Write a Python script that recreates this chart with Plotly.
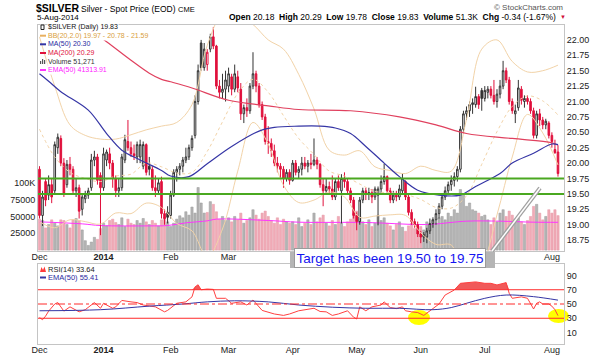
import pandas as pd
import plotly.graph_objects as go

W, H = 600, 357
def PX(x): return x / W
def PY(y): return 1 - y / H

FONT = "Liberation Sans, Arial, sans-serif"

# ---------------- data ----------------
holidays = ["2013-12-25", "2014-01-01", "2014-02-17", "2014-04-18", "2014-05-26", "2014-07-04"]
days = [d for d in pd.bdate_range("2013-12-02", "2014-08-05") if d.strftime("%Y-%m-%d") not in holidays]

opens = [19.90,19.15,19.70,19.48,19.65,19.55,20.25,20.40,20.00,19.65,19.98,19.90,19.55,19.60,19.25,19.42,19.48,19.60,20.05,20.10,19.80,
         19.60,20.05,20.15,20.00,19.75,19.55,19.60,20.05,20.35,20.25,20.15,20.10,20.10,19.95,20.30,19.95,19.90,19.60,19.55,19.70,19.18,19.20,
         19.15,19.48,19.85,19.90,19.95,20.05,20.10,20.25,20.45,21.00,21.95,21.55,21.60,21.85,22.05,21.90,21.25,21.15,21.20,
         21.25,21.40,21.20,21.40,21.20,20.80,20.90,20.85,21.25,21.45,21.25,20.95,20.75,20.35,20.32,20.20,20.00,19.95,19.90,19.75,19.85,
         19.72,20.00,19.85,19.90,20.00,19.95,20.00,19.98,20.05,19.98,19.65,19.55,19.62,19.58,19.45,19.70,19.55,19.75,19.70,19.55,19.40,
         19.15,19.05,19.40,19.55,19.50,19.52,19.45,19.48,19.58,19.70,19.78,19.55,19.40,19.48,19.45,19.55,19.70,19.45,19.20,19.05,19.00,
         18.85,18.80,18.80,18.90,19.02,19.08,19.18,19.30,19.45,19.55,19.65,19.72,19.78,19.90,20.55,20.80,20.85,20.95,20.95,21.08,21.18,
         21.05,21.15,21.20,21.10,21.00,21.12,21.25,21.50,21.35,21.00,20.80,20.90,21.20,21.00,21.05,21.00,20.85,20.45,20.80,20.70,20.62,20.65,
         20.45,20.22,20.18]
highs = [19.95,19.55,19.75,19.80,19.75,20.35,20.48,20.45,20.08,20.05,20.10,19.95,19.75,19.65,19.50,19.55,19.60,20.15,20.20,20.15,19.85,
         20.25,20.22,20.25,20.05,19.80,19.75,20.15,20.46,20.70,20.35,20.30,20.35,20.38,20.35,20.32,20.10,19.95,19.80,19.75,19.78,19.25,19.30,
         19.55,19.90,19.95,20.00,20.10,20.25,20.30,20.45,21.10,21.60,22.00,21.95,21.85,22.10,22.21,21.92,21.35,21.45,21.50,
         21.55,21.45,21.60,21.50,21.30,20.95,21.05,21.30,21.80,21.50,21.30,21.00,20.80,20.60,20.40,20.30,20.10,20.00,19.95,19.90,19.90,
         20.05,20.05,19.95,20.10,20.10,20.05,20.15,20.40,20.10,20.00,19.75,19.75,19.70,19.80,19.75,19.80,19.82,19.85,19.75,19.60,19.45,
         19.20,19.45,19.60,19.60,19.60,19.58,19.62,19.62,19.80,19.99,19.80,19.60,19.55,19.55,19.65,19.83,19.72,19.50,19.25,19.10,19.05,
         18.90,18.88,18.95,19.10,19.12,19.25,19.35,19.50,19.62,19.70,19.80,19.85,19.95,20.60,20.85,20.92,21.00,21.05,21.24,21.12,21.22,
         21.25,21.25,21.25,21.35,21.20,21.35,21.66,21.55,21.40,21.05,20.95,21.35,21.25,21.10,21.10,21.05,20.90,20.85,20.88,20.75,20.72,20.68,
         20.50,20.38,20.29]
lows = [19.10,18.98,19.30,19.40,19.35,19.50,20.15,19.95,19.45,19.60,19.80,19.50,19.45,19.10,19.15,19.35,19.42,19.55,19.95,19.65,18.83,
        19.55,19.95,19.90,19.60,19.45,19.45,19.55,20.00,20.20,20.10,20.05,20.00,20.00,19.90,19.80,19.80,19.55,19.45,19.50,19.10,19.00,19.02,
        19.10,19.45,19.70,19.80,19.85,20.00,20.05,20.20,20.40,20.95,21.50,21.50,21.50,21.80,21.85,21.20,21.05,21.05,21.00,
        21.15,21.10,21.15,21.15,20.70,20.65,20.75,20.80,21.20,21.15,20.90,20.70,20.30,20.15,20.10,19.95,19.85,19.75,19.60,19.70,19.65,
        19.70,19.80,19.75,19.80,19.90,19.85,19.90,19.95,19.90,19.60,19.30,19.50,19.50,19.40,19.40,19.55,19.02,19.60,19.50,19.35,19.10,
        18.91,19.00,19.35,19.40,19.40,19.35,19.40,18.99,19.50,19.65,19.50,19.35,19.35,19.38,19.40,19.50,19.40,19.15,19.00,18.95,18.80,
        18.70,18.72,18.70,18.85,18.95,19.00,19.10,19.25,19.40,19.50,19.55,19.62,19.70,19.85,20.50,20.70,20.75,20.80,20.90,20.88,20.85,
        21.00,21.05,21.05,20.95,20.90,21.05,21.20,21.30,20.95,20.80,20.65,20.85,20.95,20.90,20.95,20.80,20.40,20.40,20.60,20.55,20.55,20.40,
        20.25,20.15,19.78]
closes = [19.15,19.45,19.40,19.65,19.45,20.30,20.42,20.00,19.50,19.98,19.90,19.55,19.60,19.22,19.45,19.48,19.55,20.05,20.10,19.72,19.60,
          20.15,20.18,20.00,19.75,19.55,19.60,20.10,20.38,20.25,20.15,20.12,20.30,20.30,20.30,19.85,19.90,19.60,19.55,19.68,19.18,19.10,19.12,
          19.48,19.85,19.90,19.95,20.05,20.10,20.25,20.40,21.00,21.50,21.55,21.85,21.80,22.05,21.90,21.25,21.15,21.20,21.35,
          21.45,21.20,21.45,21.22,20.80,20.90,20.85,21.25,21.45,21.25,20.95,20.75,20.35,20.32,20.20,20.00,19.95,19.90,19.75,19.85,19.72,
          20.00,19.85,19.90,20.00,19.95,20.00,19.98,20.05,19.98,19.65,19.55,19.62,19.58,19.45,19.70,19.60,19.75,19.70,19.55,19.40,19.15,
          19.05,19.40,19.55,19.50,19.52,19.45,19.58,19.58,19.70,19.78,19.55,19.40,19.48,19.45,19.58,19.75,19.45,19.20,19.05,19.00,18.85,
          18.80,18.84,18.90,19.02,19.08,19.18,19.30,19.45,19.55,19.65,19.72,19.78,19.90,20.55,20.80,20.85,20.95,20.98,21.08,20.95,21.05,
          21.18,21.20,21.10,21.00,21.12,21.25,21.50,21.35,21.00,20.85,20.85,21.22,21.02,21.05,21.00,20.85,20.45,20.80,20.70,20.62,20.68,20.45,
          20.35,20.17,19.83]
prev_close_first = 19.95

volume_k = [46,44,33,38,45,40,36,45,44,38,33,45,47,44,30,14,7,12,19,16,32,
            40,36,44,46,41,38,48,35,46,40,38,44,40,47,42,38,44,40,36,45,48,42,
            35,40,46,51,48,57,52,64,55,93,70,55,56,72,68,57,46,50,44,
            48,42,50,45,55,40,44,48,60,52,46,55,58,50,44,40,48,38,46,42,40,
            42,38,48,35,40,45,38,55,42,48,52,40,36,44,38,50,40,35,42,46,55,
            58,50,42,38,45,35,40,52,44,48,40,36,30,38,42,34,28,36,40,32,30,
            35,30,42,38,45,40,48,50,45,55,50,60,55,90,82,65,70,60,58,55,50,
            52,45,38,48,42,55,60,50,58,52,45,48,42,38,44,50,65,68,55,45,50,60,
            55,60,51.271]

bb_idx = list(range(0, 171, 5))
bb_upper = [22.05,21.25,20.62,20.45,20.39,20.39,20.46,20.54,20.60,20.66,20.95,21.91,22.41,22.39,22.25,22.00,21.85,21.44,
            20.88,20.21,20.13,20.20,19.94,19.88,19.83,19.95,19.88,19.87,20.71,21.85,22.00,21.65,21.48,21.50,21.59]
bb_mid = [20.55,20.10,19.85,19.75,19.70,19.79,19.82,20.00,19.94,19.84,19.85,20.19,20.67,21.13,21.36,21.15,20.77,20.40,
          20.14,19.87,19.79,19.66,19.54,19.52,19.49,19.41,19.28,19.27,19.47,19.98,20.51,20.92,21.09,21.01,20.78]
bb_lower = [19.05,18.95,19.08,19.05,19.01,19.19,19.18,19.35,19.28,19.02,18.90,18.47,18.93,19.87,20.66,20.31,19.64,19.36,
            19.40,19.53,19.45,19.12,19.14,19.16,19.15,18.87,18.68,18.67,18.23,18.37,19.16,20.10,20.79,20.49,19.97]

ma50_idx = [0,3,7,16,22,27,33,40,43,49,55,63,72,77,85,92,97,102,107,113,118,124,131,138,143,151,155,162,168,170]
ma50 = [21.45,21.33,21.16,20.86,20.48,20.21,20.05,19.88,19.79,19.78,19.99,20.27,20.52,20.58,20.60,20.60,20.57,20.48,20.27,
        20.00,19.78,19.56,19.48,19.48,19.62,19.83,20.00,20.16,20.31,20.30]
ma200_idx = [0,10,22,30,36,40,43,50,62,75,85,102,118,130,140,155,168,170]
ma200 = [22.75,22.40,21.97,21.67,21.46,21.36,21.32,21.22,21.02,20.93,20.87,20.85,20.75,20.62,20.48,20.40,20.33,20.29]

vol_ema_idx = [0,14,20,36,42,48,55,58,75,85,107,124,129,140,151,162,170]
vol_ema_k = [42,39,36.5,36,36.5,40.5,43.5,46,44,41.5,41,38,38.5,43,43,41.5,41.314]

rsi_idx = [0,1,2,3,5,6,8,10,13,15,18,20,21,24,25,27,30,32,34,37,38,41,42,45,48,50,51,52,53,55,57,58,61,63,66,68,70,73,77,
           80,82,85,88,90,92,94,96,98,101,103,104,105,107,109,112,113,115,117,119,120,122,124,126,128,129,131,133,136,138,
           140,143,146,148,150,152,153,154,155,158,160,162,163,164,165,167,168,169,170]
rsi = [31,28,33,40,50,52,40,46,39,42,52,44,51,44,46,55,53,52,48.6,46,46,39,41,51,53,60,74,77,70,71,70.5,58,58,51,53,48.6,55.6,
       41,36,34,36,40.5,43,44,39.5,39,34,36,40.5,31.4,29,46,40.5,46,48.6,53,45,43.5,46,40.5,39,38,34,40.5,43,50,62.6,69.6,79,
       80,81,79,79,76.7,79,80,65,58,60,58,43,51,53,50,50,47,42,33.64]
rsi_ema_idx = [0,20,36,47,55,64,75,85,96,107,118,129,135,140,146,153,162,170]
rsi_ema = [40.5,42,47,50,53,54.5,53,48.6,45.5,44,44,42,45,51,58,62.6,60.3,55.41]

# ---------------- derived positions ----------------
N = len(closes)
xs = list(range(N))
month_idx, month_lbl = [], []
for i, d in enumerate(days):
    if i == 0 or d.month != days[i - 1].month:
        month_idx.append(i)
        month_lbl.append("<b>2014</b>" if (d.month == 1) else d.strftime("%b"))
hidden = {"Apr", "May", "Jun", "Jul"}   # covered by the target box in the reference
top_idx = [m for m, l in zip(month_idx, month_lbl) if l not in hidden]
top_lbl = [l for l in month_lbl if l not in hidden]

prev = [prev_close_first] + closes[:-1]
up = [i for i in xs if closes[i] >= prev[i]]
dn = [i for i in xs if closes[i] < prev[i]]

XR = [-0.49, 171.97]
XD = [PX(38), PX(564)]
MAIN_Y = [PY(251), PY(25)]
RSI_Y = [PY(344), PY(264)]

fig = go.Figure()

vcol = ["#b4b4b4" if closes[i] >= prev[i] else "#f0aab6" for i in xs]
vline = ["#9a9a9a" if closes[i] >= prev[i] else "#e79aa8" for i in xs]
fig.add_trace(go.Bar(x=xs, y=[v * 1000 for v in volume_k], marker=dict(color=vcol, line=dict(width=0.5, color=vline)),
                     xaxis="x", yaxis="y", hoverinfo="skip", showlegend=False))
fig.add_trace(go.Scatter(x=vol_ema_idx, y=[v * 1000 for v in vol_ema_k], mode="lines", line=dict(color="#ff33ff", width=1, shape="spline"),
                         xaxis="x", yaxis="y", hoverinfo="skip", showlegend=False))

BBC = "#f2d3a8"
fig.add_trace(go.Scatter(x=bb_idx, y=bb_upper, mode="lines", line=dict(color=BBC, width=1, shape="spline"), xaxis="x", yaxis="y2", showlegend=False, hoverinfo="skip"))
fig.add_trace(go.Scatter(x=bb_idx, y=bb_mid, mode="lines", line=dict(color=BBC, width=1, dash="dot", shape="spline"), xaxis="x", yaxis="y2", showlegend=False, hoverinfo="skip"))
fig.add_trace(go.Scatter(x=bb_idx, y=bb_lower, mode="lines", line=dict(color=BBC, width=1, shape="spline"), xaxis="x", yaxis="y2", showlegend=False, hoverinfo="skip"))
fig.add_trace(go.Scatter(x=ma200_idx, y=ma200, mode="lines", line=dict(color="#e0405e", width=1.2, shape="spline"), xaxis="x", yaxis="y2", showlegend=False, hoverinfo="skip"))
fig.add_trace(go.Scatter(x=ma50_idx, y=ma50, mode="lines", line=dict(color="#3535a5", width=1.2, shape="spline"), xaxis="x", yaxis="y2", showlegend=False, hoverinfo="skip"))

def candle(idx, color):
    return go.Candlestick(x=idx, open=[opens[i] for i in idx], high=[highs[i] for i in idx],
                          low=[lows[i] for i in idx], close=[closes[i] for i in idx],
                          increasing=dict(line=dict(color=color, width=1), fillcolor="white"),
                          decreasing=dict(line=dict(color=color, width=1), fillcolor=color),
                          whiskerwidth=0, xaxis="x", yaxis="y2", showlegend=False, hoverinfo="skip")
fig.add_trace(candle(up, "#333333"))
fig.add_trace(candle(dn, "#e0103c"))

fig.add_trace(go.Scatter(x=rsi_idx, y=[70] * len(rsi_idx), mode="lines", line=dict(width=0, color="rgba(0,0,0,0)"),
                         xaxis="x2", yaxis="y3", showlegend=False, hoverinfo="skip"))
fig.add_trace(go.Scatter(x=rsi_idx, y=[max(v, 70) for v in rsi], mode="lines", line=dict(width=0, color="rgba(0,0,0,0)"),
                         fill="tonexty", fillcolor="#f05a5a", xaxis="x2", yaxis="y3", showlegend=False, hoverinfo="skip"))
fig.add_trace(go.Scatter(x=rsi_idx, y=rsi, mode="lines", line=dict(color="#ff4040", width=1),
                         xaxis="x2", yaxis="y3", showlegend=False, hoverinfo="skip"))
fig.add_trace(go.Scatter(x=rsi_ema_idx, y=rsi_ema, mode="lines", line=dict(color="#3535a5", width=1, shape="spline"),
                         xaxis="x2", yaxis="y3", showlegend=False, hoverinfo="skip"))

shapes = []
for lv in (19.75, 19.50):
    shapes.append(dict(type="line", xref="paper", yref="y2", x0=XD[0], x1=XD[1], y0=lv, y1=lv,
                       line=dict(color="#4aa820", width=2)))
for lv, dash in ((70, "solid"), (30, "solid"), (50, "dashdot")):
    shapes.append(dict(type="line", xref="paper", yref="y3", x0=XD[0], x1=XD[1], y0=lv, y1=lv,
                       line=dict(color="#ff2a2a", width=1, dash=dash)))
for (x0, y0, x1, y1) in ((408, 310, 430, 325), (548, 309, 569, 323)):
    shapes.append(dict(type="circle", xref="paper", yref="paper", x0=PX(x0), x1=PX(x1), y0=PY(y1), y1=PY(y0),
                       fillcolor="#ffff00", line=dict(width=0), layer="below"))
shapes.append(dict(type="line", xref="paper", yref="paper", x0=PX(492), y0=PY(251), x1=PX(540), y1=PY(188),
                   line=dict(color="#a0a0a0", width=4)))
shapes.append(dict(type="line", xref="paper", yref="paper", x0=PX(492), y0=PY(251), x1=PX(540), y1=PY(188),
                   line=dict(color="#ffffff", width=1.5)))
shapes.append(dict(type="rect", xref="paper", yref="paper", x0=PX(290), x1=PX(495), y0=PY(268), y1=PY(252),
                   fillcolor="#b5b5b5", line=dict(width=0)))
leg_rows = [27, 35.7, 44.3, 53, 61.7, 70]
icon_cols = ["#222222", "#e8b060", "#3535a5", "#e0103c", "#555555", "#ff33ff"]
for yy, cc in zip(leg_rows[1:], icon_cols[1:]):
    if cc == "#555555":
        continue
    shapes.append(dict(type="line", xref="paper", yref="paper", x0=PX(40), x1=PX(46), y0=PY(yy), y1=PY(yy),
                       line=dict(color=cc, width=2)))
for k, hh in enumerate((3, 5, 4)):
    shapes.append(dict(type="rect", xref="paper", yref="paper", x0=PX(40 + 2 * k), x1=PX(41.2 + 2 * k),
                       y0=PY(64), y1=PY(64 - hh), fillcolor="#555555", line=dict(width=0)))
shapes.append(dict(type="rect", xref="paper", yref="paper", x0=PX(41), x1=PX(44), y0=PY(29.5), y1=PY(25),
                   fillcolor="white", line=dict(color="#222", width=1)))
shapes.append(dict(type="line", xref="paper", yref="paper", x0=PX(40), x1=PX(46), y0=PY(277.5), y1=PY(277.5),
                   line=dict(color="#3535a5", width=2)))
shapes.append(dict(type="path", xref="paper", yref="paper",
                   path=f"M {PX(40)} {PY(272)} L {PX(41.5)} {PY(267)} L {PX(43)} {PY(270)} L {PX(44.5)} {PY(266.5)} L {PX(46)} {PY(272)} Z",
                   fillcolor="#ff3b3b", line=dict(width=0)))

ann = []
def A(text, x, y, size, color="#000", xanchor="left", bg=None, **kw):
    d = dict(text=text, x=PX(x), y=PY(y), xref="paper", yref="paper", xanchor=xanchor, yanchor="middle",
             showarrow=False, font=dict(size=size, color=color, family=FONT), borderpad=0)
    if bg:
        d["bgcolor"] = bg
    d.update(kw)
    ann.append(d)

A("<b>$SILVER</b>", 35, 8, 10.5)
A("Silver - Spot Price (EOD)", 80, 8.5, 8.5)
A("CME", 177, 9, 7.5)
A("5-Aug-2014", 36, 17, 8)
A("<b>Open</b> 20.18\u00a0\u00a0<b>High</b> 20.29\u00a0\u00a0<b>Low</b> 19.78\u00a0\u00a0<b>Close</b> 19.83\u00a0\u00a0"
  "<b>Volume</b> 51.3K\u00a0\u00a0<b>Chg</b> -0.34 (-1.67%)", 557, 17, 8.5, xanchor="right")
A("\u25bc", 559, 17, 6, color="#d0103a")
A("\u00a9 StockCharts.com", 564, 7, 8, color="#555555", xanchor="right")

leg_txt = ["$SILVER (Daily) 19.83", "BB(20,2.0) 19.97 - 20.78 - 21.59", "MA(50) 20.30", "MA(200) 20.29",
           "Volume 51,271", "EMA(50) 41313.91"]
leg_col = ["#111111", "#d9a040", "#2a2aa0", "#e0103c", "#333333", "#ff1aff"]
for t, yy, cc in zip(leg_txt, leg_rows, leg_col):
    A(t, 47, yy, 7, color=cc, bg="white")
A("RSI(14) 33.64", 47, 269, 7.5, color="#222222", bg="white")
A("EMA(50) 55.41", 47, 277.5, 7.5, color="#2a2aa0", bg="white")

A("Target has been 19.50 to 19.75", 389.5, 258, 13.5, color="#1414f0", xanchor="center", bg="white",
  bordercolor="#9a9a9a", borderwidth=1, borderpad=1.5)

axis_common = dict(showgrid=False, zeroline=False, showline=True, mirror=True, linecolor="#c4c4c4", linewidth=1,
                   ticks="", ticklen=0, automargin=False, tickfont=dict(size=9, color="#222", family=FONT))

fig.update_layout(
    width=W, height=H, margin=dict(l=0, r=0, t=0, b=0, autoexpand=False),
    paper_bgcolor="white", plot_bgcolor="white", showlegend=False, hovermode=False,
    boxgap=0.25, bargap=0.25, barmode="overlay",
    xaxis=dict(domain=XD, range=XR, anchor="y", tickmode="array", tickvals=top_idx, ticktext=top_lbl,
               rangeslider=dict(visible=False), ticklabelstandoff=-3, **axis_common),
    yaxis=dict(domain=MAIN_Y, range=[-1300, 334300], side="left", anchor="x", tickmode="array",
               tickvals=[25000, 50000, 75000, 100000], ticktext=["25000", "50000", "75000", "100K"], **axis_common),
    yaxis2=dict(domain=MAIN_Y, range=[18.573, 22.242], overlaying="y", side="right", anchor="x", tickmode="array",
                tickvals=[18.75 + 0.25 * k for k in range(14)], tickformat=".2f", **axis_common),
    xaxis2=dict(domain=XD, range=XR, anchor="y3", tickmode="array", tickvals=month_idx, ticktext=month_lbl,
                rangeslider=dict(visible=False), ticklabelstandoff=-3, **axis_common),
    yaxis3=dict(domain=RSI_Y, range=[-6.1, 106.1], side="right", anchor="x2", tickmode="array",
                tickvals=[10, 30, 50, 70, 90], **axis_common),
    shapes=shapes, annotations=ann,
)

fig.write_html("out.html", config={"displayModeBar": False, "staticPlot": True},
               post_script="document.body.style.margin='0';document.body.style.padding='0';")
